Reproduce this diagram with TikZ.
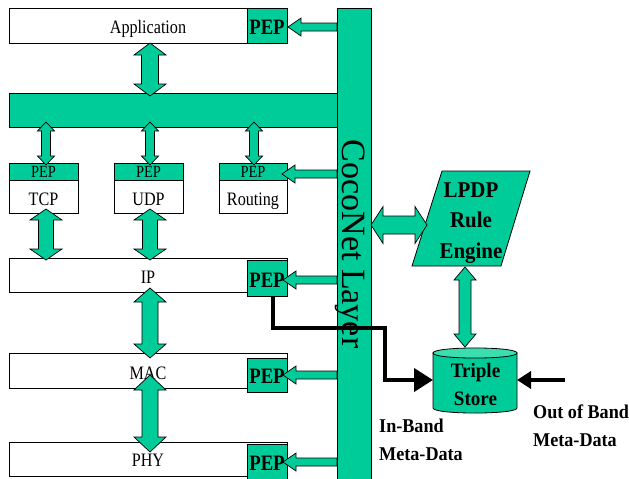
\documentclass[tikz,border=0pt]{standalone}
\usepackage{fontspec}
\setmainfont{Liberation Serif}
\newfontfamily\cfont[FakeStretch=0.85]{Liberation Serif}
\newfontfamily\cbfont[FakeStretch=0.93]{Liberation Serif}
\usetikzlibrary{calc,arrows.meta}
\definecolor{cgreen}{RGB}{0,204,153}
\definecolor{clight}{RGB}{60,222,176}
\tikzset{
  wbox/.style={draw=black, line width=0.8pt, fill=white, inner sep=0pt, anchor=north west},
  gbox/.style={draw=black, line width=0.8pt, fill=cgreen, inner sep=0pt, anchor=north west},
  blockarrow/.style={draw=black, line width=0.7pt, fill=cgreen, line join=miter},
  lbl/.style={font=\cfont\fontsize{19}{19}\selectfont, anchor=base, inner sep=0pt},
  peplbl/.style={font=\cfont\bfseries\fontsize{22}{22}\selectfont, anchor=base, inner sep=0pt},
  smallpep/.style={font=\cfont\fontsize{17}{17}\selectfont, anchor=base, inner sep=0pt},
  boldlbl/.style={font=\cbfont\bfseries\fontsize{19.5}{27.5}\selectfont, inner sep=0pt, anchor=base},
  metaarrow/.style={draw=black, line width=4pt, line join=miter},
}
% vertical double block arrow: top point, bottom point, shaft half, head half, head length
\newcommand{\vdbl}[5]{%
  \draw[blockarrow] let \p1=(#1), \p2=(#2) in
   (\x1,\y1) -- (\x1+#4,\y1-#5) -- (\x1+#3,\y1-#5) -- (\x1+#3,\y2+#5) -- (\x1+#4,\y2+#5)
   -- (\x1,\y2) -- (\x1-#4,\y2+#5) -- (\x1-#3,\y2+#5) -- (\x1-#3,\y1-#5) -- (\x1-#4,\y1-#5) -- cycle;}
% horizontal double block arrow: left point, right point, shaft half, head half, head length
\newcommand{\hdbl}[5]{%
  \draw[blockarrow] let \p1=(#1), \p2=(#2) in
   (\x1,\y1) -- (\x1+#5,\y1+#4) -- (\x1+#5,\y1+#3) -- (\x2-#5,\y1+#3) -- (\x2-#5,\y1+#4)
   -- (\x2,\y1) -- (\x2-#5,\y1-#4) -- (\x2-#5,\y1-#3) -- (\x1+#5,\y1-#3) -- (\x1+#5,\y1-#4) -- cycle;}
% single left-pointing block arrow: tail (right), tip (left)
\newcommand{\lsgl}[2]{%
  \draw[blockarrow] let \p1=(#1), \p2=(#2) in
   (\x2,\y2) -- (\x2+13pt,\y2+9pt) -- (\x2+13pt,\y2+4pt) -- (\x1,\y2+4pt) -- (\x1,\y2-4pt)
   -- (\x2+13pt,\y2-4pt) -- (\x2+13pt,\y2-9pt) -- cycle;}
\begin{document}
\begin{tikzpicture}[x=1pt,y=-1pt]
\useasboundingbox (0,0) rectangle (629,479);

% ---- protocol stack boxes ----
\node[wbox, minimum width=278, minimum height=35] (app) at (9,8) {};
\node[gbox, minimum width=40, minimum height=35] (apppep) at (247,8) {};
\node[lbl] (applbl) at (148,33) {Application};
\node[peplbl] (apppeplbl) at (267,34) {PEP};

\node[gbox, minimum width=328, minimum height=34] (bus) at (9,93) {};

\node[wbox, minimum width=69, minimum height=50] (tcp) at (9,163) {};
\node[gbox, minimum width=69, minimum height=17] (tcppep) at (9,163) {};
\node[smallpep] (tcppeplbl) at (43.5,177) {PEP};
\node[lbl] (tcplbl) at (43.5,205) {TCP};

\node[wbox, minimum width=69, minimum height=50] (udp) at (114,163) {};
\node[gbox, minimum width=69, minimum height=17] (udppep) at (114,163) {};
\node[smallpep] (udppeplbl) at (148.5,177) {PEP};
\node[lbl] (udplbl) at (148.5,205) {UDP};

\node[wbox, minimum width=68, minimum height=50] (rout) at (219,163) {};
\node[gbox, minimum width=68, minimum height=17] (routpep) at (219,163) {};
\node[smallpep] (routpeplbl) at (253,177) {PEP};
\node[lbl] (routlbl) at (253,205) {Routing};

\node[wbox, minimum width=278, minimum height=34] (ip) at (9,258) {};
\node[gbox, minimum width=40, minimum height=36] (ippep) at (247,260) {};
\node[lbl] (iplbl) at (148,283) {IP};
\node[peplbl] (ippeplbl) at (267,287) {PEP};

\node[wbox, minimum width=278, minimum height=35] (mac) at (9,353) {};
\node[gbox, minimum width=40, minimum height=34] (macpep) at (247,358) {};
\node[lbl] (maclbl) at (148,379) {MAC};
\node[peplbl] (macpeplbl) at (267,383) {PEP};

\node[wbox, minimum width=278, minimum height=34] (phy) at (9,442) {};
\node[gbox, minimum width=40, minimum height=36] (phypep) at (247,444) {};
\node[lbl] (phylbl) at (148,466) {PHY};
\node[peplbl] (phypeplbl) at (267,470) {PEP};

% ---- CocoNet layer ----
\node[gbox, minimum width=34, minimum height=480] (coco) at (337,8) {};
\node[font=\fontsize{34}{34}\selectfont, rotate=-90, anchor=base, inner sep=0pt] (cocolbl) at (342,244) {CocoNet Layer};

% ---- LPDP rule engine ----
\draw[draw=black, line width=0.8pt, fill=cgreen] (442,171) -- (530,171) -- (501,266) -- (412,266) -- cycle;
\node[font=\cbfont\bfseries\fontsize{22.5}{30.5}\selectfont, align=center, anchor=base, inner sep=0pt] (lpdp) at (471,258) {LPDP\\Rule\\Engine};

% ---- Triple store ----
\draw[draw=black, line width=0.8pt, fill=cgreen] (433,353) -- (433,408) .. controls (433,414.7) and (517,414.7) .. (517,408) -- (517,353) -- cycle;
\draw[draw=black, line width=0.8pt, fill=clight] (433,353) .. controls (433,346.3) and (517,346.3) .. (517,353) .. controls (517,359.7) and (433,359.7) .. (433,353) -- cycle;
\node[font=\cbfont\bfseries\fontsize{20.5}{28}\selectfont, align=center, anchor=base, inner sep=0pt] (ts) at (475.5,405) {Triple\\Store};
\coordinate (tswest) at (433,380);
\coordinate (tseast) at (517,380);

% ---- block arrows ----
\coordinate (a1t) at (150,43);  \coordinate (a1b) at (150,96);
\vdbl{a1t}{a1b}{8.5pt}{16pt}{12pt}
\coordinate (a2t) at (46,122);  \coordinate (a2b) at (46,165);
\vdbl{a2t}{a2b}{4.5pt}{8.5pt}{9pt}
\coordinate (a3t) at (150,122); \coordinate (a3b) at (150,165);
\vdbl{a3t}{a3b}{4.5pt}{8.5pt}{9pt}
\coordinate (a4t) at (254,122); \coordinate (a4b) at (254,165);
\vdbl{a4t}{a4b}{4.5pt}{8.5pt}{9pt}
\coordinate (a5t) at (46,209);  \coordinate (a5b) at (46,260);
\vdbl{a5t}{a5b}{7.5pt}{16pt}{11pt}
\coordinate (a6t) at (150,209); \coordinate (a6b) at (150,260);
\vdbl{a6t}{a6b}{7.5pt}{16pt}{11pt}
\coordinate (a7t) at (150,288); \coordinate (a7b) at (150,358);
\vdbl{a7t}{a7b}{8pt}{16pt}{14pt}
\coordinate (a8t) at (150,375); \coordinate (a8b) at (150,452);
\vdbl{a8t}{a8b}{8pt}{16pt}{15pt}
\coordinate (a9t) at (465,267); \coordinate (a9b) at (465,347);
\vdbl{a9t}{a9b}{6pt}{11pt}{13pt}
\coordinate (h1l) at (371,225); \coordinate (h1r) at (427,225);
\hdbl{h1l}{h1r}{9pt}{18.5pt}{12pt}

% CocoNet -> PEP arrows
\coordinate (c1) at (337,27);  \coordinate (p1) at (288,27);  \lsgl{c1}{p1}
\coordinate (c2) at (337,174); \coordinate (p2) at (282,174); \lsgl{c2}{p2}
\coordinate (c3) at (337,280); \coordinate (p3) at (283,280); \lsgl{c3}{p3}
\coordinate (c4) at (337,375); \coordinate (p4) at (283,375); \lsgl{c4}{p4}
\coordinate (c5) at (337,462); \coordinate (p5) at (283,462); \lsgl{c5}{p5}

% ---- meta-data arrows ----
\coordinate (ipout) at (273,296);
\draw[metaarrow, -{Triangle[length=19pt,width=23pt]}] (ipout) -- (273,328) -- (385,328) -- (385,380) -- (tswest);
\coordinate (oobsrc) at (565,380);
\draw[metaarrow, -{Triangle[length=14pt,width=17pt]}] (oobsrc) -- (tseast);

% ---- text labels ----
\node[boldlbl, align=left, anchor=base west] (inband) at (379,460) {In-Band\\Meta-Data};
\node[boldlbl, align=left, anchor=base west] (outband) at (533,446) {Out of Band\\Meta-Data};
\end{tikzpicture}
\end{document}
